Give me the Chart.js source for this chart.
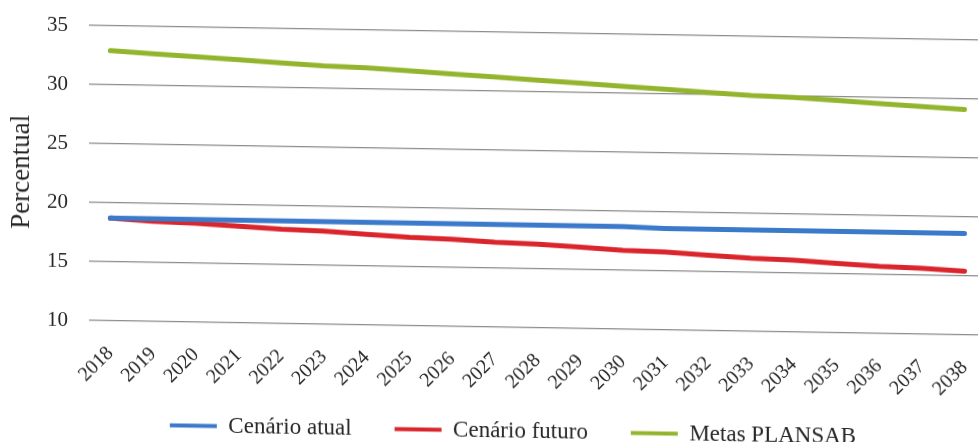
<!DOCTYPE html>
<html lang="pt">
<head>
<meta charset="utf-8">
<title>Percentual por cenário</title>
<script src="https://cdn.jsdelivr.net/npm/chart.js@4"></script>
<style>
  html, body { margin: 0; padding: 0; background: #fff; overflow: hidden; }
  #wrap {
    width: 1000px;
    height: 442px;
    /* a folha digitalizada ficou ligeiramente inclinada */
    transform: skewY(0.95deg);
    transform-origin: 0 0;
  }
</style>
</head>
<body>
<div id="wrap"><canvas id="chart" width="1000" height="442"></canvas></div>
<script>
  // Anos do horizonte de planejamento
  const anos = [
    "2018", "2019", "2020", "2021", "2022", "2023", "2024", "2025", "2026", "2027",
    "2028", "2029", "2030", "2031", "2032", "2033", "2034", "2035", "2036", "2037", "2038"
  ];

  // Percentual em cada cenário
  const cenarioAtual = [
    18.7, 18.7, 18.7, 18.7, 18.7, 18.7, 18.7, 18.7, 18.7, 18.7,
    18.7, 18.7, 18.7, 18.6, 18.6, 18.6, 18.6, 18.6, 18.6, 18.6, 18.6
  ];
  const cenarioFuturo = [
    18.7, 18.5, 18.4, 18.2, 18.0, 17.9, 17.7, 17.5, 17.4, 17.2,
    17.1, 16.9, 16.7, 16.6, 16.4, 16.2, 16.1, 15.9, 15.7, 15.6, 15.4
  ];
  const metasPlansab = [
    32.9, 32.7, 32.5, 32.3, 32.1, 31.9, 31.8, 31.6, 31.4, 31.2,
    31.0, 30.8, 30.6, 30.4, 30.2, 30.0, 29.9, 29.7, 29.5, 29.3, 29.1
  ];

  const eixoY = { min: 10, max: 35, passo: 5 };

  const fonte = "'Liberation Serif', 'Times New Roman', serif";
  const corTexto = "#262626";

  function serie(label, valores, cor) {
    return {
      label: label,
      data: valores,
      borderColor: cor,
      backgroundColor: cor,
      borderWidth: 5,
      borderCapStyle: "round",
      pointRadius: 0,
      pointHoverRadius: 0,
      tension: 0,
      fill: false,
    };
  }

  // ajustes finos depois do layout: legenda um pouco mais à direita e
  // área do eixo X mais alta para os anos girados não serem cortados
  const ajusteLayout = {
    id: "ajusteLayout",
    afterLayout(chart) {
      chart.legend.left += 17;
      chart.legend.right += 17;
      chart.legend.top += 2;
      chart.legend.bottom += 2;
      chart.scales.x.bottom += 40;
    },
  };

  const config = {
    type: "line",
    data: {
      labels: anos,
      datasets: [
        serie("Cenário atual", cenarioAtual, "#3b79cb"),
        serie("Cenário futuro", cenarioFuturo, "#d9252b"),
        serie("Metas PLANSAB", metasPlansab, "#93b52e"),
      ],
    },
    plugins: [ajusteLayout],
    options: {
      responsive: false,
      animation: false,
      layout: {
        padding: { left: 6, right: 14, top: 24, bottom: 0 },
      },
      scales: {
        x: {
          offset: true,
          grid: { display: false, drawTicks: false },
          border: { display: false },
          afterFit: function (scale) {
            scale.height = 47;
            scale.paddingLeft = 0;
            scale.paddingRight = 0;
          },
          ticks: {
            autoSkip: false,
            minRotation: 45,
            maxRotation: 45,
            padding: 21,
            color: corTexto,
            font: { family: fonte, size: 20 },
          },
        },
        y: {
          min: eixoY.min,
          max: eixoY.max,
          grid: {
            color: "#8c8c8c",
            lineWidth: 1.2,
            drawTicks: false,
          },
          border: { display: false },
          afterFit: function (scale) {
            scale.width = 83;
            scale.paddingTop = 0;
            scale.paddingBottom = 0;
          },
          ticks: {
            stepSize: eixoY.passo,
            padding: 21,
            color: corTexto,
            font: { family: fonte, size: 21 },
          },
          title: {
            display: true,
            text: "Percentual",
            color: corTexto,
            font: { family: fonte, size: 27 },
            padding: { top: 0, bottom: 6 },
          },
        },
      },
      plugins: {
        tooltip: { enabled: false },
        legend: {
          position: "bottom",
          labels: {
            boxWidth: 47,
            boxHeight: 4,
            padding: 43,
            color: corTexto,
            font: { family: fonte, size: 23 },
            generateLabels: function (chart) {
              return Chart.defaults.plugins.legend.labels
                .generateLabels(chart)
                .map(function (item) {
                  item.lineWidth = 0;
                  return item;
                });
            },
          },
        },
      },
    },
  };

  window.myChart = new Chart(document.getElementById("chart"), config);
</script>
</body>
</html>
